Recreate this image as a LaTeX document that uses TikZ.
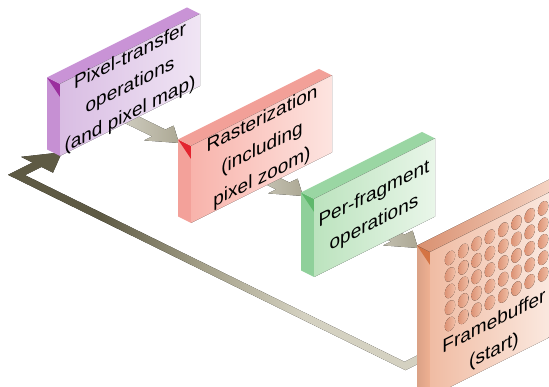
\documentclass[tikz,border=0pt]{standalone}
\usepackage{fontspec}
\setmainfont{Liberation Sans}
\usetikzlibrary{calc}
\definecolor{ad}{HTML}{5E5A44}
\definecolor{am}{HTML}{A39F88}
\definecolor{al}{HTML}{D4D1C1}
\pgfdeclarehorizontalshading{retshade}{100bp}{color(0bp)=(ad); color(36bp)=(ad); color(48bp)=(am); color(60bp)=(al); color(100bp)=(al)}
\definecolor{sa1}{HTML}{DEDCD2}
\definecolor{sa2}{HTML}{ACA894}
\tikzset{
  txt/.style={font=\fontsize{19}{29}\selectfont, align=center, yslant=0.5, inner sep=0pt, text=black},
  smallarrow/.style={left color=sa1, right color=sa2},
  bigarrow/.style={shading=retshade},
  dotstyle/.style={left color=dt1, right color=dt2},
  % purple box
  pS/.style={fill=pSc}, pK/.style={fill=pKc}, pT/.style={fill=pTc},
  pF/.style={left color=pF1, right color=pF2},
  % red box
  rS/.style={fill=rSc}, rK/.style={fill=rKc}, rT/.style={fill=rTc},
  rF/.style={left color=rF1, right color=rF2},
  % green box
  gS/.style={fill=gSc}, gK/.style={fill=gKc}, gT/.style={fill=gTc},
  gF/.style={left color=gF1, right color=gF2},
  % framebuffer
  fS/.style={left color=fSc!92!black, right color=fSc}, fK/.style={fill=fK}, fT/.style={left color=fT1, right color=fT2},
  fF/.style={left color=fF1, right color=fF2},
}
\definecolor{pSc}{HTML}{C690D3}\definecolor{pKc}{HTML}{9B2F9E}\definecolor{pTc}{HTML}{C993D6}
\definecolor{pF1}{HTML}{D9BDE3}\definecolor{pF2}{HTML}{F0E5F4}
\definecolor{rSc}{HTML}{F3A19A}\definecolor{rKc}{HTML}{E3242F}\definecolor{rTc}{HTML}{F2A098}
\definecolor{rF1}{HTML}{F8B3AB}\definecolor{rF2}{HTML}{FDE4E0}
\definecolor{gSc}{HTML}{8FD09A}\definecolor{gKc}{HTML}{5FB86C}\definecolor{gTc}{HTML}{9AD6A3}
\definecolor{gF1}{HTML}{BCE3BE}\definecolor{gF2}{HTML}{E9F6E9}
\definecolor{fSc}{HTML}{EEB092}\definecolor{fK}{HTML}{D47444}
\definecolor{fT1}{HTML}{D99070}\definecolor{fT2}{HTML}{F7DACB}
\definecolor{fF1}{HTML}{F0BCA3}\definecolor{fF2}{HTML}{FCEEE7}
\definecolor{dt1}{HTML}{DC9274}\definecolor{dt2}{HTML}{F1BFA7}
% slab: name, x0, y0 (image, downwards), width, height
\newcommand\slab[5]{%
  \coordinate (#1tl) at (#2,-#3);
  \coordinate (#1tr) at ($(#1tl)+(#4,#4/2)$);
  \coordinate (#1bl) at ($(#1tl)+(0,-#5)$);
  \coordinate (#1br) at ($(#1tr)+(0,-#5)$);
  \fill[#1S] ($(#1tl)+(-13,6.5)$) -- (#1tl) -- (#1bl) -- ($(#1bl)+(-13,6.5)$) -- cycle;
  \fill[#1K] ($(#1tl)+(-13,6.5)$) -- (#1tl) -- ($(#1tl)+(0,-13)$) -- cycle;
  \fill[#1T] ($(#1tl)+(-13,6.5)$) -- ($(#1tr)+(-13,6.5)$) -- (#1tr) -- (#1tl) -- cycle;
  \fill[#1F] (#1tl) -- (#1tr) -- (#1br) -- (#1bl) -- cycle;
}
\newcommand\flatarr[1]{%
  \fill[smallarrow] ($(#1)+(-81,33)$) -- ($(#1)+(-27,6.6)$) -- ($(#1)+(-35,2.6)$) -- (#1)
    -- ($(#1)+(-5.4,17.4)$) -- ($(#1)+(-13.5,13.4)$) -- ($(#1)+(-67.5,39.8)$) -- cycle;
}
\begin{document}
\begin{tikzpicture}[x=1pt,y=1pt]
\useasboundingbox (0,0) rectangle (549,-387);
\clip (0,0) rectangle (549,-387);
% return arrow (framebuffer back to pixel-transfer)
\coordinate (rt1) at (420.5,-353.8);
\coordinate (rt2) at (404.5,-361.8);
\coordinate (rt3) at (25,-175.2);
\coordinate (rt4) at (41.5,-166.95);
\coordinate (rt5) at (53,-172.65);
\coordinate (rtip) at (62,-152.25);
\coordinate (rt7) at (21,-156.85);
\coordinate (rt8) at (32.5,-162.55);
\coordinate (rt9) at (8,-174.8);
\coordinate (rt10) at (405.5,-370.2);
\coordinate (rt11) at (429.5,-358.2);
\fill[bigarrow] (rt1) -- (rt2) -- (rt3) -- (rt4) -- (rt5) -- (rtip) -- (rt7) -- (rt8) -- (rt9) -- (rt10) -- (rt11) -- cycle;
% arrows between stages
\coordinate (a1) at (179,-143);
\coordinate (a2) at (303,-196);
\coordinate (a3) at (418,-248);
\flatarr{a1}
\flatarr{a2}
\flatarr{a3}
% boxes
\slab{p}{60}{84}{140}{72}
\slab{r}{191}{146}{141}{77}
\slab{g}{314}{199}{121}{78}
\slab{f}{430}{252}{135}{145}
% framebuffer dots
\foreach \c in {0,...,7}{
  \foreach \r in {0,...,4}{
    \fill[dotstyle, shift={({450+13.3*\c},{-258+7.1*\c-16.5*\r})}, yslant=0.5] (0,0) ellipse [x radius=5.2, y radius=6.8];
  }
}
% labels
\node[txt] (t1) at (130,-86) {Pixel-transfer\\operations\\(and pixel map)};
\node[txt] (t2) at (262,-149) {Rasterization\\(including\\pixel zoom)};
\node[txt] (t3) at (374,-209) {Per-fragment\\operations};
\node[txt] (t4) at (494,-337) {Framebuffer\\(start)};
\end{tikzpicture}
\end{document}
